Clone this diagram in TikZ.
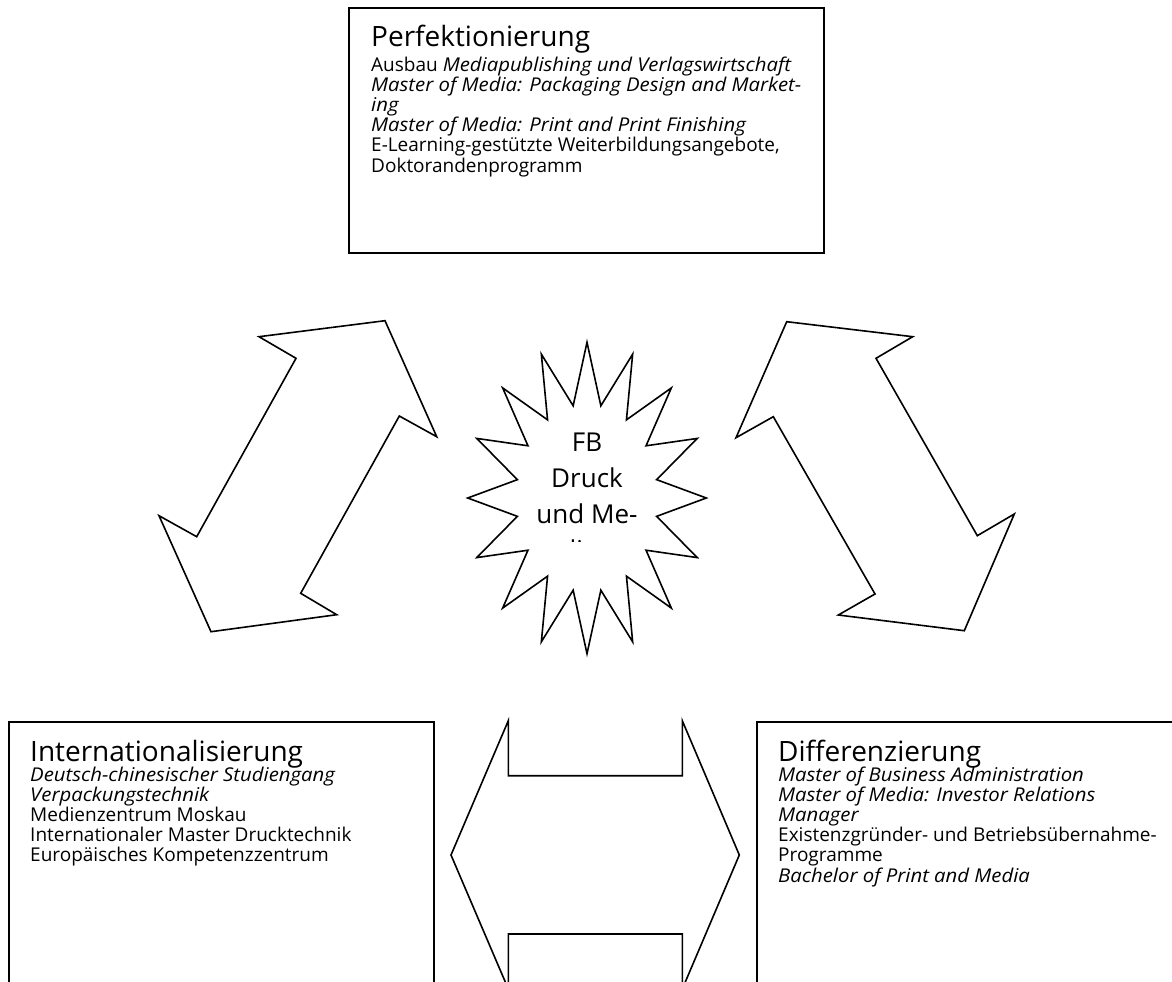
\documentclass[tikz,border=0pt]{standalone}
\usepackage{fontspec}
\setmainfont{Open Sans}[ItalicFeatures={FakeStretch=1.07}]
\tikzset{
  outline/.style={draw=black, line width=1.6pt, line join=miter, fill=white},
  boxtitle/.style={anchor=base west, inner sep=0pt, font=\fontsize{28}{34}\selectfont},
  boxbody/.style={anchor=base west, inner sep=0pt},
}
\newcommand{\bodytext}[1]{\parbox[t]{470pt}{\raggedright\fontsize{19}{20.2}\selectfont #1}}
\begin{document}
\begin{tikzpicture}[x=1pt, y=-1pt]
\useasboundingbox (0,0) rectangle (1172,982);
\clip (0,0) rectangle (1172,982);

% top box
\draw[outline] (349,8) rectangle (824,253);
\node[boxtitle] (perftitle) at (371,47) {Perfektionierung};
\node[boxbody] (perfbody) at (371,71) {\bodytext{Ausbau \textit{Mediapublishing und Verlagswirtschaft}\\
\textit{Master of Media: Packaging Design and Market-}\\
\textit{ing}\\
\textit{Master of Media: Print and Print Finishing}\\
E-Learning-gestützte Weiterbildungsangebote,\\
Doktorandenprogramm}};

% left diagonal double arrow
\draw[outline] (385,320.7) -- (436.7,436.7) -- (399.3,416) -- (300.7,593.3) -- (336.7,614.7)
  -- (211,631.7) -- (159,515.7) -- (196.7,536.7) -- (296,358.3) -- (259,336.7) -- cycle;

% right diagonal double arrow
\draw[outline] (786.7,321.7) -- (912.7,336.7) -- (876,358.3) -- (977.3,535.7) -- (1014.3,514)
  -- (964.3,630.7) -- (838.3,615) -- (875,594) -- (773.3,416.7) -- (736,437.7) -- cycle;

% star
\begin{scope}[shift={(587,498)}]
\draw[outline] (90:119.3 and 155.7)
  \foreach \k in {0,...,15} {
    -- ({90+22.5*\k+11.25}:71 and 94) -- ({90+22.5*\k+22.5}:119.3 and 155.7)
  } -- cycle;
\end{scope}
\begin{scope}
\clip (500,400) rectangle (680,541.5);
\node[anchor=base, inner sep=0pt] (startext) at (587,451.5)
  {\parbox[t]{160pt}{\centering\fontsize{26}{36}\selectfont FB\\Druck\\und Me-\\dien}};
\end{scope}

% bottom horizontal double arrow
\draw[outline] (451,855) -- (508.3,720.7) -- (508.3,775.7) -- (682.3,775.7) -- (682.3,720.7)
  -- (739.3,855) -- (682.3,989) -- (682.3,934) -- (508.3,934) -- (508.3,989) -- cycle;

% left box
\draw[outline] (9,722) rectangle (434,1000);
\node[boxtitle] (inttitle) at (30,761) {Internationalisierung};
\node[boxbody] (intbody) at (30,781) {\bodytext{\textit{Deutsch-chinesischer Studiengang}\\
\textit{Verpackungstechnik}\\
Medienzentrum Moskau\\
Internationaler Master Drucktechnik\\
Europäisches Kompetenzzentrum}};

% right box
\draw[outline] (757,722) rectangle (1190,1000);
\node[boxtitle] (difftitle) at (778,761) {Differenzierung};
\node[boxbody] (diffbody) at (778,781) {\bodytext{\textit{Master of Business Administration}\\
\textit{Master of Media: Investor Relations}\\
\textit{Manager}\\
Existenzgründer- und Betriebsübernahme-\\
Programme\\
\textit{Bachelor of Print and Media}}};
\end{tikzpicture}
\end{document}
